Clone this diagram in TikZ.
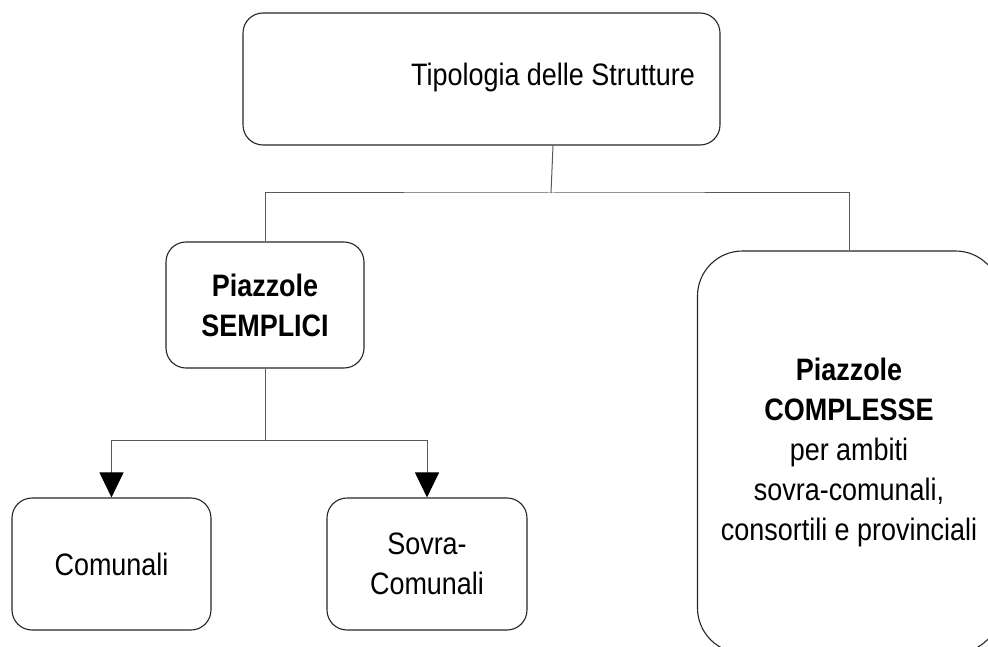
\documentclass[tikz,border=0pt]{standalone}
\usepackage{fontspec}
\setmainfont[FakeStretch=0.87]{Liberation Sans}
\usetikzlibrary{arrows.meta}

\tikzset{
  x=1pt, y=-1pt,
  box/.style={draw=black!85, line width=1.1pt, rounded corners=20pt,
    inner sep=0pt, align=center, font=\fontsize{31}{40}\selectfont},
  link/.style={draw=black!65, line width=1pt},
  arrowlink/.style={link, -{Triangle[width=24pt,length=25pt,black]}},
  txt/.style={inner sep=0pt, align=center, font=\fontsize{31}{40}\selectfont}
}

\begin{document}
\begin{tikzpicture}
  \useasboundingbox (0,0) rectangle (988,647);
  \clip (0,0) rectangle (988,647);

  % boxes
  \node[box, minimum width=477pt, minimum height=132pt] (top) at (481.5,79) {};
  \node[txt] (toptext) at (553,77) {Tipologia delle Strutture};

  \node[box, minimum width=198pt, minimum height=126pt] (semplici) at (265,305)
    {\textbf{Piazzole}\\\textbf{SEMPLICI}};

  \node[box, rounded corners=45pt, minimum width=303pt, minimum height=402pt]
    (complesse) at (849,452)
    {\textbf{Piazzole}\\\textbf{COMPLESSE}\\per ambiti\\sovra-comunali,\\consortili e provinciali};

  \node[box, minimum width=199pt, minimum height=132pt] (comunali) at (111.5,564)
    {Comunali};
  \node[box, minimum width=200pt, minimum height=132pt] (sovra) at (427,564)
    {Sovra-\\Comunali};

  % tree connectors
  \coordinate (j1) at (551,193);
  \coordinate (j2) at (265,440);
  \draw[link] (toptext |- top.south) -- (j1);
  \draw[link] (semplici.north) |- (j1) -| (complesse.north);
  \draw[link] (semplici.south) -- (j2);
  \draw[arrowlink] (j2) -| (comunali.north);
  \draw[arrowlink] (j2) -| (sovra.north);
\end{tikzpicture}
\end{document}
